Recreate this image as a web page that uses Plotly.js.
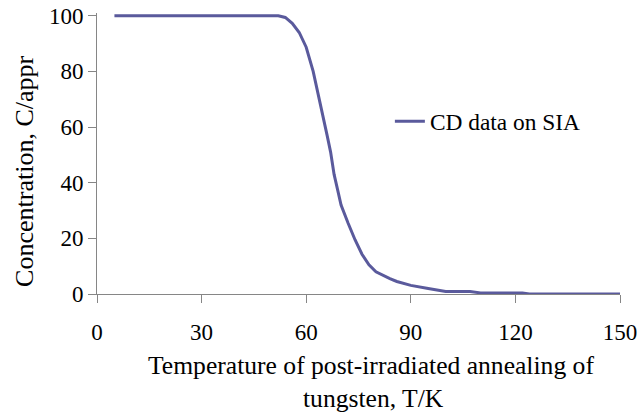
<!DOCTYPE html>
<html>
<head>
<meta charset="utf-8">
<script src="https://cdn.plot.ly/plotly-3.0.1.min.js"></script>
<style>
  html, body { margin: 0; padding: 0; background: #fff; }
  #chart { width: 639px; height: 416px; }
</style>
</head>
<body>
<div id="chart"></div>
<script>
// Data
const temperatureK = [5, 52, 54, 56, 58, 60, 62, 64, 66, 67, 68, 69, 70, 72, 74, 76, 78, 80, 82, 84, 86, 88, 90, 95, 100, 107, 110, 122, 124, 150];
const concentration = [100, 100, 99.4, 97.3, 94, 88.7, 80, 69, 57, 51, 43, 37.5, 32, 25.5, 19.5, 14.3, 10.5, 8, 6.6, 5.5, 4.5, 3.8, 3.1, 2, 0.9, 0.9, 0.4, 0.4, 0, 0];
const seriesName = 'CD data on SIA';
const xTitleLines = ['Temperature of post-irradiated annealing of', 'tungsten, T/K'];
const yTitle = 'Concentration, C/appr';
const xTicks = [0, 30, 60, 90, 120, 150];
const yTicks = [0, 20, 40, 60, 80, 100];

const FONT = 'Liberation Serif';
const AXIS_COLOR = '#868686';

const trace = {
  x: temperatureK,
  y: concentration,
  type: 'scatter',
  mode: 'lines',
  name: seriesName,
  line: { color: '#5a5a9c', width: 3 },
  showlegend: true
};

const layout = {
  width: 639,
  height: 416,
  margin: { l: 97, r: 19, t: 13.2, b: 122 },
  paper_bgcolor: '#ffffff',
  plot_bgcolor: '#ffffff',
  font: { family: FONT, size: 23, color: '#000000' },
  showlegend: true,
  legend: {
    x: 0.56, xanchor: 'left',
    y: 0.6136, yanchor: 'middle',
    bgcolor: 'rgba(0,0,0,0)',
    borderwidth: 0,
    font: { family: FONT, size: 23.4, color: '#000000' }
  },
  xaxis: {
    range: [0, 150],
    tickmode: 'array',
    tickvals: xTicks,
    ticktext: xTicks.map(String),
    showline: true, linecolor: AXIS_COLOR, linewidth: 1,
    ticks: 'outside', ticklen: 8, tickcolor: AXIS_COLOR, tickwidth: 1,
    ticklabelstandoff: 9,
    showgrid: false, zeroline: false,
    tickfont: { family: FONT, size: 23, color: '#000000' }
  },
  yaxis: {
    range: [0, 101],
    tickmode: 'array',
    tickvals: yTicks,
    ticktext: yTicks.map(String),
    showline: true, linecolor: AXIS_COLOR, linewidth: 1,
    ticks: 'outside', ticklen: 8, tickcolor: AXIS_COLOR, tickwidth: 1,
    showgrid: false, zeroline: false,
    tickfont: { family: FONT, size: 23, color: '#000000' }
  },
  annotations: [
    {
      text: xTitleLines[0], xref: 'paper', yref: 'paper',
      x: (371 - 97) / 523, y: (294 - 365) / 280.8,
      xanchor: 'center', yanchor: 'middle', showarrow: false,
      font: { family: FONT, size: 25.6, color: '#000000' }
    },
    {
      text: xTitleLines[1], xref: 'paper', yref: 'paper',
      x: (373 - 97) / 523, y: (294 - 398) / 280.8,
      xanchor: 'center', yanchor: 'middle', showarrow: false,
      font: { family: FONT, size: 25.6, color: '#000000' }
    },
    {
      text: yTitle, xref: 'paper', yref: 'paper',
      x: (25 - 97) / 523, y: (294 - 172) / 280.8,
      xanchor: 'center', yanchor: 'middle', showarrow: false, textangle: -90,
      font: { family: FONT, size: 26, color: '#000000' }
    }
  ]
};

function forceSerif(gd) {
  gd.querySelectorAll('.xtick text, .ytick text, .legendtext').forEach(function (t) {
    t.style.setProperty('font-family', "'Liberation Serif', serif", 'important');
  });
}

const gd = document.getElementById('chart');
Plotly.newPlot(gd, [trace], layout, { displayModeBar: false, staticPlot: true }).then(function () {
  forceSerif(gd);
  gd.on('plotly_afterplot', function () { forceSerif(gd); });
});
</script>
</body>
</html>
